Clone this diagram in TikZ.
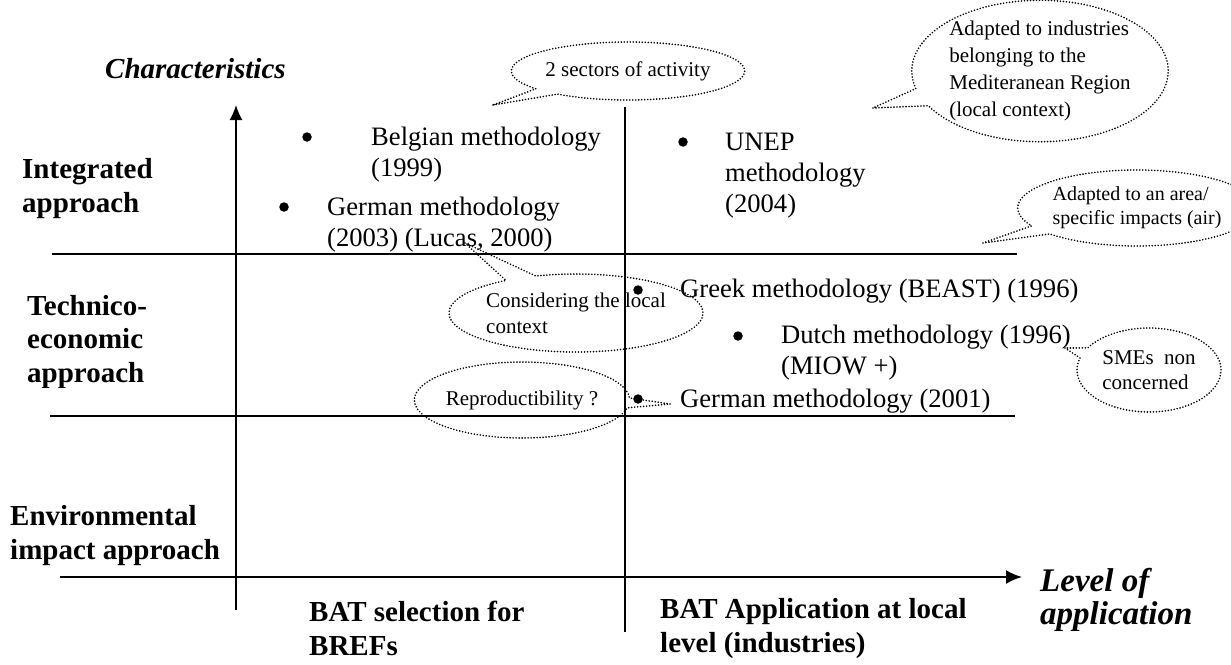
\documentclass[tikz,border=0pt]{standalone}
\usepackage{fontspec}
\setmainfont{Liberation Serif}
\usetikzlibrary{arrows.meta,shapes.callouts}

\tikzset{
  item/.style={anchor=base west,inner sep=0pt,align=left,font=\fontsize{26.6}{31}\selectfont},
  band/.style={anchor=base west,inner sep=0pt,align=left,font=\fontsize{29}{33.5}\selectfont\bfseries},
  axislabel/.style={anchor=base west,inner sep=0pt,align=left,font=\fontsize{29}{33}\selectfont\bfseries\itshape},
  dot/.style={circle,fill=black,inner sep=0pt,minimum size=9.5pt},
  bubble/.style={ellipse callout,draw,line width=1.8pt,dash pattern=on 0pt off 3pt,line cap=round,
    inner sep=0pt,align=left,font=\fontsize{21}{27}\selectfont},
  rule/.style={line width=1.3pt}
}

\begin{document}
\begin{tikzpicture}[x=1pt,y=-1pt]
        \useasboundingbox (0,0) rectangle (1231,664);

        % Axes
        \draw[line width=1.5pt,-{Latex[length=15pt,width=13pt]}] (236,610) -- (236,105);
        \draw[line width=2pt,-{Latex[length=16pt,width=14pt]}] (60,577) -- (1022,577);
        \node[axislabel] (charac) at (105,78) {Characteristics};
        \node[axislabel,font=\fontsize{33}{33}\selectfont\bfseries\itshape] (levelapp) at (1040,624) {Level of\\application};

        % Band limits and level split
        \draw[rule] (625,107) -- (625,632);
        \draw[rule] (52,254) -- (1017,254);
        \draw[rule] (50,416) -- (1015,416);

        % Approaches (base = last line)
        \node[band] (integ) at (22,212) {Integrated\\approach};
        \begin{scope}
            \clip (0,280) rectangle (200,387);
            \node[band] (techno) at (27,382) {Technico-\\economic\\approach};
        \end{scope}
        \node[band] (envir) at (10,559) {Environmental\\impact approach};

        % Levels of application
        \node[band] (brefs) at (309,655) {BAT selection for\\BREFs};
        \node[band] (locallev) at (660,652) {BAT Application at local\\level (industries)};

        % Methodologies
        \node[dot] (d1) at (307,137) {};
        \node[item] (belgian) at (371,176) {Belgian methodology\\(1999)};
        \node[dot] (d2) at (683,142) {};
        \node[item] (unep) at (725,212) {UNEP\\methodology\\(2004)};
        \node[dot] (d3) at (284,207) {};
        \node[item] (german03) at (327,246) {German methodology\\(2003) (Lucas, 2000)};
        \node[dot] (d4) at (638,290) {};
        \node[item] (greek) at (680,297) {Greek methodology (BEAST) (1996)};
        \node[dot] (d5) at (738,336) {};
        \node[item] (dutch) at (781,374) {Dutch methodology (1996)\\(MIOW +)};
        \node[dot] (d6) at (638,399) {};
        \node[item] (german01) at (680,407) {German methodology (2001)};

        % Comments (bubbles)
        \node[bubble,minimum width=206pt,minimum height=58pt,callout absolute pointer={(493,105)}] (sectors) at (628,71) {2 sectors of activity};
        \node[bubble,minimum width=248pt,minimum height=123pt,callout absolute pointer={(873,108)}] (industries) at (1040,71) {Adapted to industries\\belonging to the\\Mediteranean Region\\(local context)};
        \node[bubble,font=\fontsize{20}{24}\selectfont,minimum width=182pt,minimum height=76pt,callout absolute pointer={(983,243)}] (area) at (1137,208) {Adapted to an area/\\specific impacts (air)};
        \node[bubble,font=\fontsize{21}{26}\selectfont,minimum width=206pt,minimum height=78pt,callout absolute pointer={(465,243)}] (localctx) at (576,313) {Considering the local\\context};
        \node[bubble,minimum width=208pt,minimum height=76pt,callout absolute pointer={(670,404)}] (reprod) at (522,400) {Reproductibility ?};
        \node[bubble,font=\fontsize{21}{25}\selectfont,minimum width=144pt,minimum height=84pt,callout absolute pointer={(1065,348)}] (smes) at (1149,370) {SMEs\ \ non\\concerned};

\end{tikzpicture}
\end{document}
